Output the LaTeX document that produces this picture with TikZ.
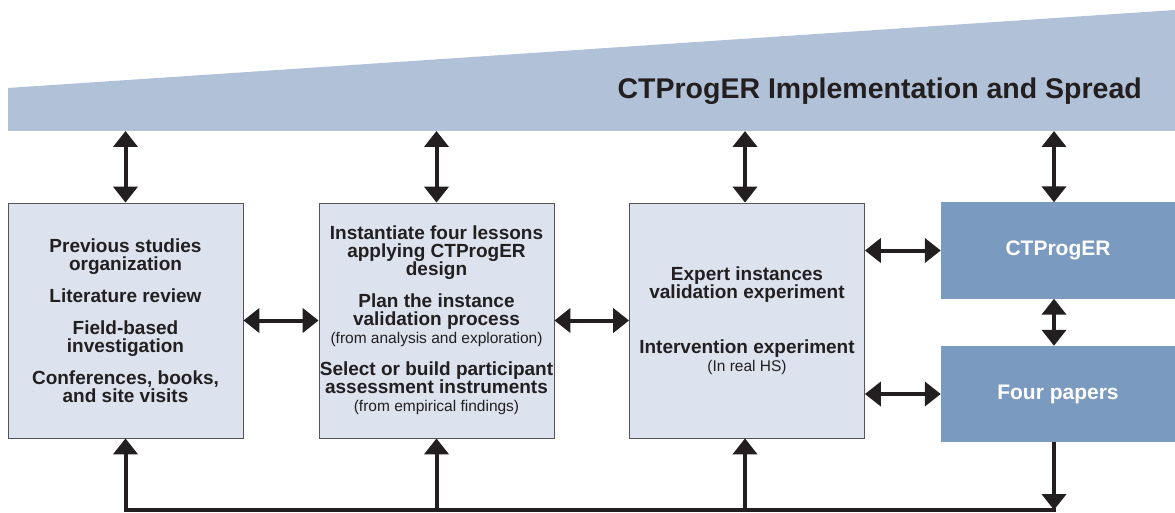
\documentclass[tikz,border=0pt]{standalone}
\usepackage{fontspec}
\setmainfont{Liberation Sans}
\usetikzlibrary{arrows.meta}
\definecolor{wedgefill}{HTML}{B1C1D8}
\definecolor{lightbox}{HTML}{DCE3EE}
\definecolor{darkbox}{HTML}{7B9ABF}
\definecolor{inkblack}{HTML}{231F20}
\definecolor{boxline}{HTML}{555555}
\newcommand{\bigtxt}{\fontsize{19}{18}\selectfont\bfseries}
\newcommand{\smalltxt}{\fontsize{15.5}{18}\selectfont\mdseries}
\tikzset{
  x=1pt, y=-1pt,
  stagebox/.style={draw=boxline, line width=0.8pt, fill=lightbox, text=inkblack,
    minimum width=235pt, minimum height=235pt, inner sep=0pt, align=center,
    font=\bigtxt},
  outbox/.style={fill=darkbox, text=white, minimum width=234pt, minimum height=96pt,
    inner sep=0pt, align=center, font=\fontsize{21}{22}\selectfont\bfseries},
  dblarrow/.style={draw=inkblack, line width=4pt, {Triangle[length=16pt,width=24pt]}-{Triangle[length=16pt,width=24pt]}},
  onearrow/.style={draw=inkblack, line width=4pt, -{Triangle[length=16pt,width=24pt]}},
  baseline/.style={draw=inkblack, line width=4pt, line cap=rect},
}
\begin{document}
\begin{tikzpicture}
\useasboundingbox (0,0) rectangle (1175,513);

% widening band along the top
\fill[wedgefill] (8,88) -- (1175,10) -- (1175,131) -- (8,131) -- cycle;
\node[font=\fontsize{28.5}{30}\selectfont\bfseries, text=inkblack, anchor=base east,
  inner sep=0pt] (title) at (1142,99) {CTProgER Implementation and Spread};

% stage boxes
\node[stagebox] (b1) at (125.5,320.5) {Previous studies\\organization\\[14pt]
  Literature review\\[14pt]
  Field-based\\investigation\\[14pt]
  Conferences, books,\\and site visits};
\node[stagebox] (b2) at (436.5,320.5) {Instantiate four lessons\\applying CTProgER\\design\\[14pt]
  Plan the instance\\validation process\\{\smalltxt(from analysis and exploration)}\\[14pt]
  Select or build participant\\assessment instruments\\{\smalltxt(from empirical findings)}};
\node[stagebox] (b3) at (747,320.5) {Expert instances\\validation experiment\\[37pt]
  Intervention experiment\\{\smalltxt(In real HS)}};

% outcome boxes
\node[outbox] (cp) at (1058,250.5) {CTProgER};
\node[outbox] (fp) at (1058,394) {Four papers};

% links to the top band
\coordinate (t1) at (125.5,131);
\coordinate (t2) at (436.5,131);
\coordinate (t3) at (745,131);
\coordinate (t4) at (1054,131);
\draw[dblarrow] (t1) -- (b1.north);
\draw[dblarrow] (t2) -- (b2.north);
\draw[dblarrow] (t3) -- (t3 |- b3.north);
\draw[dblarrow] (t4) -- (t4 |- cp.north);

% links between boxes
\draw[dblarrow] (b1.east) -- (b2.west);
\draw[dblarrow] (b2.east) -- (b3.west);
\draw[dblarrow] (b3.east |- cp.west) -- (cp.west);
\draw[dblarrow] (b3.east |- fp.west) -- (fp.west);
\draw[dblarrow] (t4 |- cp.south) -- (t4 |- fp.north);

% feedback line along the bottom
\coordinate (r1) at (125.5,510);
\coordinate (r4) at (1054,510);
\draw[baseline] (r1) -- (r4);
\draw[onearrow] (t4 |- fp.south) -- (r4);
\draw[onearrow] (r1) -- (b1.south);
\draw[onearrow] (b2.south |- r1) -- (b2.south);
\draw[onearrow] (t3 |- r1) -- (t3 |- b3.south);
\end{tikzpicture}
\end{document}
